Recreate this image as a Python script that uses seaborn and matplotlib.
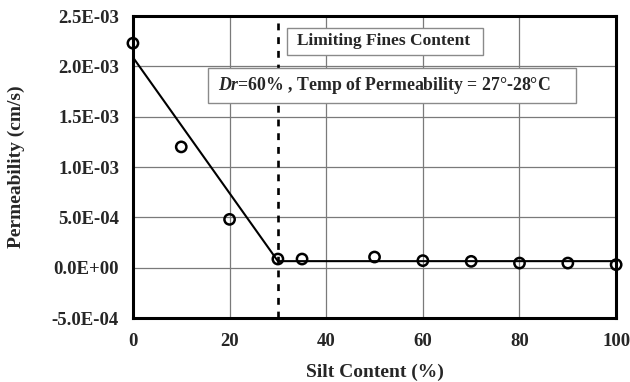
import matplotlib
matplotlib.use("Agg")
import matplotlib.pyplot as plt
import matplotlib.ticker as mticker
from matplotlib.patches import Rectangle
import numpy as np
import pandas as pd
import seaborn as sns

# Measured permeability versus silt content
silt_content = [0, 10, 20, 30, 35, 50, 60, 70, 80, 90, 100]
permeability = [2.23e-3, 1.20e-3, 4.8e-4, 8.6e-5, 8.6e-5, 1.06e-4, 7.0e-5, 6.3e-5, 4.6e-5, 4.6e-5, 3.0e-5]

# Bilinear trend: falling branch up to the limiting fines content, then flat
trend_x = [0, 30, 100]
trend_y = [2.09e-3, 6.5e-5, 6.5e-5]

limiting_fines = 30

x_ticks = [0, 20, 40, 60, 80, 100]
y_ticks = [-5e-4, 0, 5e-4, 1e-3, 1.5e-3, 2e-3, 2.5e-3]

sns.set_theme(style="white")
plt.rcParams["font.family"] = ["Liberation Serif", "DejaVu Serif"]
plt.rcParams["font.weight"] = "bold"
plt.rcParams["mathtext.fontset"] = "custom"
plt.rcParams["mathtext.it"] = "Liberation Serif:italic:bold"
plt.rcParams["mathtext.rm"] = "Liberation Serif:bold"

fig = plt.figure(figsize=(6.3, 3.82), dpi=100)
ax = fig.add_axes([0.211, 0.1675, 0.767, 0.7905])

df = pd.DataFrame({"silt": silt_content, "k": permeability})
trend = pd.DataFrame({"silt": trend_x, "k": trend_y})

sns.lineplot(data=trend, x="silt", y="k", ax=ax, color="black", linewidth=1.5,
             zorder=3, sort=False)
sns.scatterplot(data=df, x="silt", y="k", ax=ax, marker="o", s=55,
                facecolor="none", edgecolor="black", linewidth=1.8, zorder=4,
                clip_on=False)

ax.axvline(limiting_fines, color="black", linewidth=1.9,
           linestyle=(0, (2.6, 2.6)), zorder=3)

ax.set_xlim(0, 100)
ax.set_ylim(-5e-4, 2.5e-3)
ax.set_xticks(x_ticks)
ax.set_yticks(y_ticks)
ax.yaxis.set_major_formatter(mticker.FuncFormatter(lambda v, p: f"{v:.1E}"))

ax.grid(True, color="#7a7a7a", linewidth=0.9)
for s in ax.spines.values():
    s.set_color("black")
    s.set_linewidth(2.2)
ax.tick_params(axis="x", direction="inout", length=8, width=1.8, color="black",
               labelsize=13.5, pad=7)
ax.tick_params(axis="y", direction="out", length=5, width=1.8, color="black",
               labelsize=13.5, pad=5)
for lab in ax.get_xticklabels() + ax.get_yticklabels():
    lab.set_fontweight("bold")

ax.set_xlabel("Silt Content (%)", fontsize=14, fontweight="bold", va="center")
ax.set_ylabel("Permeability (cm/s)", fontsize=14, fontweight="bold", va="center")
ax.xaxis.set_label_coords(0.5, -0.179)
ax.yaxis.set_label_coords(-0.242, 0.5)

# Annotation boxes
ax.add_patch(Rectangle((31.9, 2.115e-3), 40.6, 2.68e-4, facecolor="white",
                       edgecolor="#8a8a8a", linewidth=1.0, zorder=5))
ax.text(51.8, 2.249e-3, "Limiting Fines Content", ha="center", va="center",
        fontsize=12.5, fontweight="bold", zorder=6)

ax.add_patch(Rectangle((15.5, 1.639e-3), 76.2, 3.47e-4, facecolor="white",
                       edgecolor="#8a8a8a", linewidth=1.0, zorder=5))
ax.text(17.6, 1.807e-3,
        r"$\mathit{Dr}$=60% , Temp of Permeability = 27°-28°C",
        ha="left", va="center", fontsize=12.8, fontweight="bold", zorder=6)

fig.savefig("out.png", dpi=100, facecolor="white")
